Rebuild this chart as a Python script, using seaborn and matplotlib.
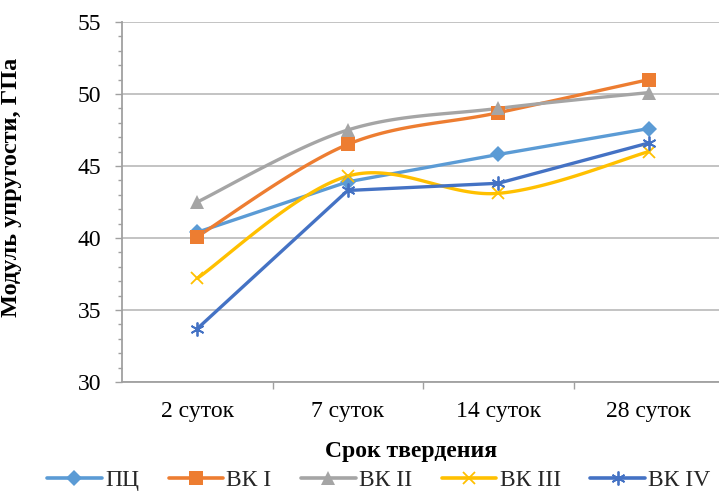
import numpy as np
import pandas as pd
import matplotlib
matplotlib.use("Agg")
import matplotlib.pyplot as plt
from matplotlib.lines import Line2D
from matplotlib.ticker import MultipleLocator, FixedLocator
import seaborn as sns

# Curing periods and elastic modulus (GPa) per mix
periods = ["2 суток", "7 суток", "14 суток", "28 суток"]
series_names = ["ПЦ", "ВК I", "ВК II", "ВК III", "ВК IV"]
pc = [40.4, 43.9, 45.8, 47.6]
vk1 = [40.1, 46.5, 48.7, 51.0]
vk2 = [42.5, 47.5, 49.0, 50.1]
vk3 = [37.2, 44.3, 43.1, 46.0]
vk4 = [33.7, 43.3, 43.8, 46.6]

values = [pc, vk1, vk2, vk3, vk4]
colors = ["#5B9BD5", "#ED7D31", "#A5A5A5", "#FFC000", "#4472C4"]
markers = ["D", "s", "^", "x", (6, 2, 0)]
msizes = [8.5, 10.5, 10.5, 9, 10]
smooth = [False, True, True, True, False]

sns.set_theme(style="white")
plt.rcParams["font.family"] = ["Liberation Serif", "DejaVu Serif"]

FS = 17


def smooth_curve(xs, ys, n=40):
    """Cubic Bezier smoothing through the points (Catmull-Rom style)."""
    p = np.column_stack([xs, ys]).astype(float)
    ext = np.vstack([p[0], p, p[-1]])
    out = []
    t = np.linspace(0, 1, n)[:, None]
    for i in range(len(p) - 1):
        p0, p1, p2, p3 = ext[i], ext[i + 1], ext[i + 2], ext[i + 3]
        c1 = p1 + (p2 - p0) / 6.0
        c2 = p2 - (p3 - p1) / 6.0
        seg = ((1 - t) ** 3) * p1 + 3 * ((1 - t) ** 2) * t * c1 + 3 * (1 - t) * t ** 2 * c2 + t ** 3 * p2
        out.append(seg if i == 0 else seg[1:])
    s = np.vstack(out)
    return s[:, 0], s[:, 1]


xpos = np.arange(len(periods))
rows = []
for name, vals, sm in zip(series_names, values, smooth):
    if sm:
        cx, cy = smooth_curve(xpos, vals)
    else:
        cx, cy = xpos.astype(float), np.array(vals, float)
    for k, (a, b) in enumerate(zip(cx, cy)):
        rows.append({"series": name, "x": a, "y": b, "order": k})
curves = pd.DataFrame(rows)

points = pd.DataFrame(
    [{"series": n, "x": i, "y": v} for n, vals in zip(series_names, values) for i, v in enumerate(vals)]
)

fig = plt.figure(figsize=(7.19, 4.91), dpi=100)
ax = fig.add_axes([122 / 719, 109 / 491, 602 / 719, 360 / 491])

palette = dict(zip(series_names, colors))
sns.lineplot(data=curves, x="x", y="y", hue="series", palette=palette, sort=False,
             estimator=None, units="series", linewidth=2.4, legend=False, ax=ax, zorder=3)

for name, col, mk, ms in zip(series_names, colors, markers, msizes):
    sub = points[points["series"] == name]
    mew = 1.3 if mk in ("x",) or isinstance(mk, tuple) else 0
    ax.plot(sub["x"], sub["y"], ls="none", marker=mk, markersize=ms, color=col,
            markeredgecolor=col, markeredgewidth=mew, zorder=4)

ax.set_xlim(-0.5, 3.5)
ax.set_ylim(30, 55)
ax.yaxis.set_major_locator(MultipleLocator(5))
ax.yaxis.set_minor_locator(MultipleLocator(1))
ax.set_xticks(xpos)
ax.set_xticklabels(periods)
ax.xaxis.set_minor_locator(FixedLocator([0.5, 1.5, 2.5, 3.5]))

grid_col = "#b3b3b3"
ax.grid(axis="y", which="major", color=grid_col, linewidth=1.1)
ax.grid(axis="x", visible=False)
for side in ("top", "right"):
    ax.spines[side].set_visible(False)
for side in ("left", "bottom"):
    ax.spines[side].set_visible(True)
    ax.spines[side].set_color("#a0a0a0")
    ax.spines[side].set_linewidth(1.3)

ax.tick_params(axis="y", which="major", direction="out", length=5, width=1, color="#a0a0a0",
               labelsize=FS, pad=10, left=True, labelcolor="black")
ax.tick_params(axis="y", which="minor", direction="out", length=3, width=1, color="#a0a0a0", left=True)
ax.tick_params(axis="x", which="major", length=0, labelsize=FS, pad=14, labelcolor="black")
ax.tick_params(axis="x", which="minor", direction="out", length=5, width=1, color="#a0a0a0", bottom=True)

ax.set_xlabel("Срок твердения", fontsize=FS, fontweight="bold", color="black")
ax.set_ylabel("Модуль упругости, ГПа", fontsize=17.5, fontweight="bold", color="black")
ax.xaxis.set_label_coords(0.48, -0.165)
ax.yaxis.set_label_coords(-0.166, 0.54)

handles = [
    Line2D([0], [0], color=c, lw=2.6, marker=m, markersize=ms, markeredgecolor=c,
           markeredgewidth=(1.3 if (m == "x" or isinstance(m, tuple)) else 0))
    for c, m, ms in zip(colors, markers, msizes)
]
fig.legend(handles, series_names, loc="center", bbox_to_anchor=(0.527, 0.022), ncol=5,
           frameon=False, fontsize=FS, handlelength=2.3, handletextpad=0.15,
           columnspacing=1.25)

fig.savefig("out.png", dpi=100)
